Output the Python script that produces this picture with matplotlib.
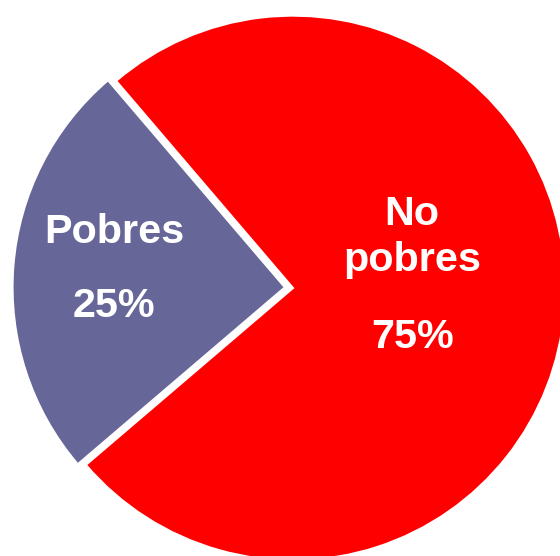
import matplotlib.pyplot as plt

labels = ["Pobres", "No pobres"]
values = [25, 75]
colors = ["#666699", "#FF0000"]
explode = [0.03, 0.0]

# figure is 560x556 px, pie centre at (293, 288) px, radius ~271 px
W, H = 560, 556
CX, CY, R = 293, 288, 271


def px(x, y):
    # pixel position (from top-left) -> data coords of the pie axes
    return (x - CX) / R, (CY - y) / R


fig = plt.figure(figsize=(W / 100, H / 100), dpi=100)
ax = fig.add_axes([0, 0, 1, 1])

ax.pie(values, colors=colors, explode=explode, startangle=130.5,
       radius=1.005, counterclock=True,
       wedgeprops=dict(edgecolor="white", linewidth=1.5))

ax.set_xlim(px(0, 0)[0], px(W, 0)[0])
ax.set_ylim(px(0, H)[1], px(0, 0)[1])
ax.set_aspect("equal")
ax.axis("off")

font = dict(family=["Liberation Sans", "DejaVu Sans"], fontsize=29.8,
            fontweight="bold", color="white", ha="center", va="baseline")

# Pobres
ax.text(*px(114, 243), labels[0], **font)
ax.text(*px(114, 317), f"{values[0]}%", **font)

# No pobres (wrapped on two lines)
line1, line2 = labels[1].split()
ax.text(*px(412, 225), line1, **font)
ax.text(*px(412, 271), line2, **font)
ax.text(*px(413, 348), f"{values[1]}%", **font)

fig.savefig("out.png", dpi=100)
